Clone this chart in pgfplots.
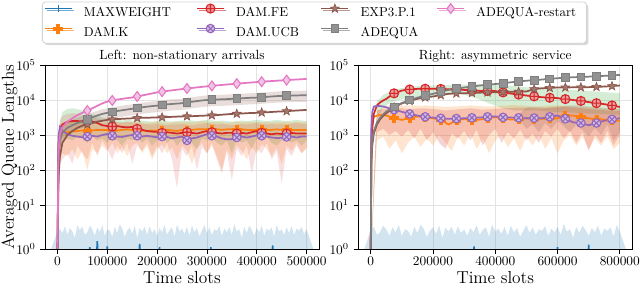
\documentclass[border=0pt]{standalone}
\usepackage{pgfplots}
\pgfplotsset{compat=1.18}
\usepackage{pgfplotstable}
\usepgfplotslibrary{fillbetween}
\usetikzlibrary{plotmarks,shadows}

\definecolor{cblue}{HTML}{1F77B4}
\definecolor{corange}{HTML}{FF7F0E}
\definecolor{cgreen}{HTML}{2CA02C}
\definecolor{cred}{HTML}{D62728}
\definecolor{cpurple}{HTML}{9467BD}
\definecolor{cbrown}{HTML}{8C564B}
\definecolor{cpink}{HTML}{E377C2}
\definecolor{cgray}{HTML}{7F7F7F}

\pgfdeclareplotmark{fstar}{%
  \pgfpathmoveto{\pgfpointpolar{90}{\pgfplotmarksize}}%
  \pgfpathlineto{\pgfpointpolar{126}{0.42\pgfplotmarksize}}%
  \pgfpathlineto{\pgfpointpolar{162}{\pgfplotmarksize}}%
  \pgfpathlineto{\pgfpointpolar{198}{0.42\pgfplotmarksize}}%
  \pgfpathlineto{\pgfpointpolar{234}{\pgfplotmarksize}}%
  \pgfpathlineto{\pgfpointpolar{270}{0.42\pgfplotmarksize}}%
  \pgfpathlineto{\pgfpointpolar{306}{\pgfplotmarksize}}%
  \pgfpathlineto{\pgfpointpolar{342}{0.42\pgfplotmarksize}}%
  \pgfpathlineto{\pgfpointpolar{18}{\pgfplotmarksize}}%
  \pgfpathlineto{\pgfpointpolar{54}{0.42\pgfplotmarksize}}%
  \pgfpathclose
  \pgfusepathqfillstroke
}
\pgfdeclareplotmark{fplus}{%
  \pgfpathmoveto{\pgfpoint{0.35\pgfplotmarksize}{\pgfplotmarksize}}%
  \pgfpathlineto{\pgfpoint{-0.35\pgfplotmarksize}{\pgfplotmarksize}}%
  \pgfpathlineto{\pgfpoint{-0.35\pgfplotmarksize}{0.35\pgfplotmarksize}}%
  \pgfpathlineto{\pgfpoint{-\pgfplotmarksize}{0.35\pgfplotmarksize}}%
  \pgfpathlineto{\pgfpoint{-\pgfplotmarksize}{-0.35\pgfplotmarksize}}%
  \pgfpathlineto{\pgfpoint{-0.35\pgfplotmarksize}{-0.35\pgfplotmarksize}}%
  \pgfpathlineto{\pgfpoint{-0.35\pgfplotmarksize}{-\pgfplotmarksize}}%
  \pgfpathlineto{\pgfpoint{0.35\pgfplotmarksize}{-\pgfplotmarksize}}%
  \pgfpathlineto{\pgfpoint{0.35\pgfplotmarksize}{-0.35\pgfplotmarksize}}%
  \pgfpathlineto{\pgfpoint{\pgfplotmarksize}{-0.35\pgfplotmarksize}}%
  \pgfpathlineto{\pgfpoint{\pgfplotmarksize}{0.35\pgfplotmarksize}}%
  \pgfpathlineto{\pgfpoint{0.35\pgfplotmarksize}{0.35\pgfplotmarksize}}%
  \pgfpathclose
  \pgfusepathqfillstroke
}

% ---------- data: left panel (non-stationary arrivals) ----------
\pgfplotstableread{
x k fe ucb exp adq rst
0 0.5 0.5 0.5 0.5 0.5 0.5
2000 600 500 900 60 200 300
5000 1100 1500 1700 250 700 1100
10000 1200 2000 1300 600 1200 1700
20000 1200 2400 1050 1000 1600 2400
30000 1250 2500 950 1300 1900 3000
40000 1300 2500 900 1600 2200 3700
50000 1350 2450 860 1850 2450 4300
60000 1300 2500 900 2000 2800 5000
70000 1350 2400 950 2200 3200 5800
80000 1400 2200 900 2400 3600 6800
90000 1400 1900 1000 2550 4000 8000
100000 1400 1800 1070 2700 4300 9000
110000 1400 1750 950 2800 4600 9700
120000 1350 1800 900 2850 4850 10300
130000 1400 1700 880 2900 5100 10800
140000 1450 1650 950 2950 5350 11300
150000 1400 1700 1000 3000 5600 11800
160000 1400 1500 950 3050 5900 12600
170000 1350 1400 900 3100 6200 13500
180000 1300 1300 950 3100 6450 14400
190000 1350 1250 900 3150 6700 15400
200000 1300 1230 860 3150 6900 16500
210000 1350 1150 900 3200 7200 17300
220000 1400 1200 880 3250 7500 18100
230000 1350 1150 800 3300 7700 18900
240000 1300 1100 850 3350 7900 19700
250000 1400 1150 900 3400 8100 20500
260000 1350 1200 700 3420 8500 21300
270000 1400 1150 800 3450 8900 22100
280000 1450 1100 850 3500 9300 22900
290000 1450 1200 950 3550 9700 23700
300000 1450 1300 1050 3600 10000 24500
310000 1400 1200 950 3650 10200 25300
320000 1450 1150 900 3700 10300 26100
330000 1400 1100 800 3800 10500 26900
340000 1450 1150 750 3900 10600 27700
350000 1450 1150 760 4000 10800 28500
360000 1400 1100 850 4050 11000 29300
370000 1450 1150 900 4100 11200 30100
380000 1400 1100 850 4200 11400 30900
390000 1400 1200 900 4250 11600 31700
400000 1400 1300 980 4300 11700 32500
410000 1450 1150 950 4400 12000 33300
420000 1400 1100 900 4450 12300 34100
430000 1400 1050 850 4550 12600 34800
440000 1450 1100 820 4650 12900 35500
450000 1400 1070 830 4700 13100 36300
460000 1400 1100 880 4800 13300 37000
470000 1400 1150 900 4900 13400 37800
480000 1400 1100 850 5000 13500 38500
490000 1400 1100 900 5100 13600 39200
500000 1400 1100 900 5200 13700 40000
}\leftlines

\pgfplotstableread{
x gu gl ou ol ru rl au al
0 0.6 0.5 0.6 0.5 0.6 0.5 0.6 0.5
5000 2500 400 2000 200 2500 150 1000 400
10000 4500 600 2200 300 3500 200 1700 800
20000 5500 800 2300 250 4000 300 2300 1050
30000 5800 700 2400 400 4200 150 2700 1250
40000 5500 900 2300 200 4000 500 3100 1450
50000 5000 800 2200 350 3800 300 3500 1600
60000 4500 600 2300 100 3500 200 3900 1800
70000 4000 900 2400 400 3200 600 4400 2050
80000 3600 700 2300 300 3000 250 4900 2300
90000 3200 800 2200 500 2800 700 5400 2600
100000 3000 600 2300 350 2600 400 5800 2800
110000 2800 850 2400 600 2500 200 6200 3000
120000 2700 700 2300 300 2400 500 6550 3150
130000 2600 500 2200 450 2300 300 6900 3300
140000 2700 800 2400 250 2400 600 7200 3500
150000 2600 700 2300 500 2300 150 7550 3650
160000 2500 900 2400 600 2200 500 7950 3850
170000 2600 600 2300 300 2100 350 8350 4050
180000 2500 800 2200 500 2000 600 8700 4200
190000 2400 500 2300 200 2000 250 9050 4350
200000 2500 700 2400 400 2100 500 9300 4500
210000 2600 900 2300 550 2000 300 9700 4700
220000 2500 600 2200 300 1900 600 10100 4900
230000 2400 800 2300 450 2000 200 10400 5000
240000 2500 500 2400 200 2000 30 10650 5150
250000 2600 700 2300 500 2100 400 10900 5250
260000 2500 800 2400 350 2000 250 11500 5500
270000 2600 600 2300 150 1900 500 12000 5800
280000 2500 400 2400 400 2000 100 12550 6050
290000 2600 800 2500 600 2100 450 13100 6300
300000 2700 700 2400 300 2200 300 13500 6500
310000 2600 900 2300 500 2100 600 13750 6650
320000 2500 600 2400 250 2000 200 13900 6700
330000 2600 500 2300 100 2100 80 14150 6800
340000 2500 700 2200 400 2000 350 14300 6900
350000 2400 300 2300 200 1900 50 14600 7000
360000 2500 800 2400 500 2000 400 14850 7150
370000 2600 600 2300 350 2100 250 15100 7300
380000 2500 700 2400 200 2000 500 15400 7400
390000 2600 400 2300 450 2100 80 15650 7550
400000 2700 800 2400 300 2200 400 15800 7600
410000 2600 700 2300 550 2100 300 16200 7800
420000 2500 900 2400 400 2000 600 16600 8000
430000 2600 600 2300 250 2100 200 17000 8200
440000 2700 500 2400 450 2000 350 17400 8400
450000 2600 700 2300 150 2100 40 17700 8500
460000 2500 800 2400 500 2000 400 17950 8650
470000 2600 600 2300 350 2100 250 18100 8700
480000 2700 700 2400 600 2200 500 18200 8800
490000 2600 500 2300 300 2100 300 18350 8850
500000 2500 700 2400 400 2000 450 18500 8900
}\leftbands

\pgfplotstableread{
x y
0 2.5
5000 2.9
10000 2.3
15000 3.3
20000 2.1
25000 3.0
30000 2.5
35000 1.8
40000 3.5
45000 2.7
50000 3.2
55000 2.1
60000 2.4
65000 3.4
70000 2.8
75000 2.0
80000 3.1
85000 2.4
90000 3.5
95000 2.0
100000 2.8
105000 2.6
110000 1.9
115000 3.2
120000 2.3
125000 3.6
130000 2.9
135000 1.9
140000 2.6
145000 3.1
150000 2.2
155000 3.4
160000 1.8
165000 3.0
170000 2.5
175000 3.2
180000 2.1
185000 3.3
190000 2.3
195000 2.8
200000 2.0
205000 3.0
210000 2.4
215000 3.5
220000 2.1
225000 2.7
230000 3.1
235000 1.9
240000 3.6
245000 2.5
250000 2.9
255000 2.2
260000 3.2
265000 2.0
270000 3.4
275000 2.4
280000 3.0
285000 1.9
290000 2.6
295000 3.5
300000 2.3
305000 3.1
310000 2.1
315000 2.8
320000 2.6
325000 3.3
330000 2.0
335000 2.9
340000 2.4
345000 3.2
350000 2.1
355000 3.7
360000 2.5
365000 2.8
370000 1.8
375000 3.2
380000 2.3
385000 3.4
390000 2.7
395000 2.0
400000 3.0
405000 2.4
410000 3.4
415000 2.0
420000 2.9
425000 2.6
430000 3.1
435000 1.9
440000 3.5
445000 2.5
450000 2.8
455000 2.1
460000 3.1
465000 2.3
470000 3.3
475000 2.1
480000 2.9
485000 2.6
490000 3.2
495000 2.2
500000 2.8
}\leftblue

% ---------- data: right panel (asymmetric service) ----------
\pgfplotstableread{
x k fe ucb exp adq
0 0.5 0.5 0.5 0.5 0.5
2000 800 400 1500 150 200
5000 2500 1500 4500 500 700
10000 3300 4000 6500 1100 1300
20000 3600 7000 6800 2000 2300
30000 3700 8500 6700 2800 3100
40000 3700 9700 6500 3500 3900
50000 3600 10800 6200 4200 4700
75000 3000 15500 5300 6200 6400
100000 2700 18600 4600 8000 8200
125000 3100 20000 4000 9400 10000
150000 3400 20800 3600 10800 11700
175000 3200 21000 3300 11800 13300
200000 3000 20900 3150 12600 15000
225000 2700 20700 3000 13800 17200
250000 2000 20300 2900 15000 19400
275000 2600 20000 2950 15400 21000
300000 2900 19400 3000 15600 22700
325000 2700 18800 3100 15900 24300
350000 2750 18200 3150 16200 25900
375000 3000 18200 3300 16500 27300
400000 3250 18000 3400 16700 28600
425000 3000 16500 3200 17000 30200
450000 2750 15300 3150 17200 32000
475000 2900 14300 3100 17300 33800
500000 3000 13400 3000 17500 35500
525000 2900 12700 3050 20500 37000
550000 2900 12000 3000 21700 38400
575000 3000 11600 3300 22200 40200
600000 3000 11300 3600 22700 41900
625000 3500 10600 2900 22800 43300
650000 3600 10000 2300 23000 44700
675000 3200 9400 2200 23000 45600
700000 3000 8700 1900 23300 46500
725000 2800 8100 2200 23700 47800
750000 2750 7600 2550 24200 49000
775000 2650 7000 2800 25000 50500
800000 2550 6300 3000 25900 52000
}\rightlines

\pgfplotstableread{
x gu gl ou ol ru rl
0 0.6 0.5 0.6 0.5 0.6 0.5
20000 9000 3000 5000 700 5000 1200
40000 14000 6000 6000 900 5500 1500
60000 17000 8000 6500 400 6000 1000
80000 20000 9500 6800 700 6000 1300
100000 22000 10500 7000 300 5800 900
120000 23500 11500 6800 600 5500 1400
140000 24500 12000 7000 900 5600 800
160000 25000 12500 6900 450 5800 1500
180000 25500 13000 7000 800 5700 700
200000 26000 13500 6800 500 5500 1200
220000 26000 14000 6500 1000 5300 600
240000 26500 14500 6400 600 5000 400
260000 27000 15000 6500 350 5200 1100
280000 27000 15000 6600 900 5400 800
300000 27500 14000 6800 500 5600 1300
320000 27500 12500 7000 1100 5800 700
340000 28000 11000 6800 400 5500 1400
360000 28000 9500 6600 800 5300 500
380000 28000 8000 6500 300 5400 1000
400000 27500 7000 6700 700 5600 1500
420000 27000 6000 6800 1000 5800 600
440000 26000 5500 7000 450 5900 1200
460000 25000 5000 7200 800 6000 800
480000 24000 5000 7000 350 6100 1400
500000 23000 5000 6800 900 6000 700
520000 22500 5200 6500 500 5800 1100
540000 22000 5000 6600 1000 5700 600
560000 21500 4800 6800 400 5800 1300
580000 21000 4600 7000 800 6000 900
600000 20500 4500 7000 300 6200 1500
620000 20000 4500 6800 700 6300 800
640000 19500 4400 6700 1000 6200 1300
660000 19000 4300 6500 500 6000 600
680000 18500 4200 6300 900 5800 1200
700000 18000 4100 6200 400 5500 350
720000 17500 4000 6000 800 5300 1000
740000 17000 4000 5800 500 5200 600
760000 16500 3900 5600 900 5000 1300
780000 16000 3900 5500 400 4800 500
800000 16000 3800 5500 600 4800 1000
}\rightbands

\pgfplotstableread{
x bu bl
460000 3200 2800
480000 4200 2600
500000 6000 1500
520000 6500 2000
540000 6200 1200
560000 6000 2200
580000 6300 1500
600000 6500 2500
620000 6800 1800
640000 7000 1200
660000 7000 2000
680000 6800 1400
700000 6500 900
720000 6200 1600
740000 6000 1000
760000 5800 2000
780000 5600 700
800000 5500 1200
}\rightbrown

\pgfplotstableread{
x y
0 2.7
10000 3.2
20000 2.1
30000 2.4
40000 3.4
50000 2.8
60000 2.0
70000 3.1
80000 2.4
90000 3.5
100000 2.0
110000 2.8
120000 2.6
130000 1.9
140000 3.2
150000 2.3
160000 3.6
170000 2.9
180000 1.9
190000 2.6
200000 3.1
210000 2.2
220000 3.4
230000 1.8
240000 3.0
250000 2.5
260000 3.2
270000 2.1
280000 3.3
290000 2.3
300000 2.8
310000 2.0
320000 3.0
330000 2.4
340000 3.5
350000 2.1
360000 2.7
370000 3.1
380000 1.9
390000 3.6
400000 2.5
410000 2.9
420000 2.2
430000 3.2
440000 2.0
450000 3.4
460000 2.4
470000 3.0
480000 1.9
490000 2.6
500000 3.5
510000 2.3
520000 3.1
530000 2.1
540000 2.8
550000 2.6
560000 3.3
570000 2.0
580000 2.9
590000 2.4
600000 3.2
610000 2.1
620000 3.7
630000 2.5
640000 2.8
650000 1.8
660000 3.2
670000 2.3
680000 3.4
690000 2.7
700000 2.0
710000 3.0
720000 2.4
730000 3.4
740000 2.0
750000 2.9
760000 2.6
770000 3.1
780000 1.9
790000 3.5
800000 2.5
}\rightblue

\pgfplotsset{
  sMW/.style={color=cblue, line width=1.3pt, mark=|, mark size=2.5pt, mark options={solid, line width=0.8pt}},
  sK/.style={color=corange, line width=1.3pt, mark=fplus, mark size=3.2pt, mark options={solid, fill=corange, draw=corange, line width=0.5pt}},
  sFE/.style={color=cred, line width=1.3pt, mark=oplus*, mark size=3.4pt, mark options={solid, fill=cred!45, draw=cred, line width=0.8pt}},
  sUCB/.style={color=cpurple, line width=1.3pt, mark=otimes*, mark size=3.2pt, mark options={solid, fill=cpurple!45, draw=cpurple, line width=0.8pt}},
  sEXP/.style={color=cbrown, line width=1.3pt, mark=fstar, mark size=3.4pt, mark options={solid, fill=cbrown!80, draw=cbrown, line width=0.5pt}},
  sADQ/.style={color=cgray, line width=1.3pt, mark=square*, mark size=2.9pt, mark options={solid, fill=cgray!85, draw=cgray, line width=0.6pt}},
  sRST/.style={color=cpink, line width=1.3pt, mark=diamond*, mark size=3.7pt, mark options={solid, fill=cpink!45, draw=cpink, line width=0.8pt}},
}

\begin{document}
\begin{tikzpicture}

% ================= LEFT =================
\begin{axis}[
  scale only axis, height=138pt, width=205.5pt,
  at={(33.75pt,27.75pt)}, anchor=south west,
  xmin=-25000, xmax=525000,
  y coord trafo/.code={\begingroup\pgfkeys{/pgf/fpu=true,/pgf/fpu/output format=fixed}%
    \pgfmathparse{ln(#1)/2.302585093}\pgfmathparse{\pgfmathresult+0.257*min(\pgfmathresult,1)}%
    \global\let\myTrafoRes\pgfmathresult\endgroup\let\pgfmathresult\myTrafoRes},
  ymin=1, ymax=100000,
  xtick={0,100000,200000,300000,400000,500000},
  ytick={1,10,100,1000,10000,100000},
  yticklabels={$10^{0}$,$10^{1}$,$10^{2}$,$10^{3}$,$10^{4}$,$10^{5}$},
  grid=major, major grid style={gray!22, line width=0.5pt},
  axis line style={line width=0.7pt},
  tick align=outside, tick pos=left, major tick length=3.5pt,
  tick style={line width=0.6pt, black},
  tick label style={font=\fontsize{9.75}{11}\selectfont},
  scaled x ticks=false,
  xticklabel style={/pgf/number format/fixed, /pgf/number format/1000 sep={}, yshift=-1.5pt, inner ysep=1pt},
  xlabel={Time slots},
  xlabel style={at={(axis description cs:0.5,-0.186)}, anchor=base, inner ysep=1pt, font=\fontsize{13}{15}\selectfont},
  title={Left: non-stationary arrivals},
  title style={at={(axis description cs:0.5,1)}, anchor=base, yshift=-2pt, font=\fontsize{10}{12}\selectfont},
  ylabel={Averaged Queue Lengths},
  ylabel style={at={(axis description cs:-0.114,0.5)}, anchor=base, font=\fontsize{13}{15}\selectfont},
  legend columns=4,
  legend style={at={(axis description cs:-0.011,1.345)}, anchor=north west,
    draw=gray!35, line width=0.6pt, rounded corners=2.5pt, fill=white,
    inner xsep=1pt, inner ysep=0.5pt, font=\fontsize{9.7}{11}\selectfont,
    nodes={inner sep=2pt, text height=8.5pt, text depth=2.5pt},
    drop shadow={shadow xshift=1.5pt, shadow yshift=-1.5pt, fill=gray!50, opacity=0.6}},
  legend image code/.code={\draw[sharp corners, mark repeat=2, mark phase=2, #1] plot coordinates {(0pt,3pt) (10.125pt,3pt) (20.25pt,3pt)};},
]
\addlegendimage{sMW}\addlegendentry{\makebox[88.75pt][l]{\hspace{6.5pt}MAXWEIGHT}}
\addlegendimage{sFE}\addlegendentry{\makebox[67.75pt][l]{\hspace{6.5pt}DAM.FE}}
\addlegendimage{sEXP}\addlegendentry{\makebox[61.35pt][l]{\hspace{6.5pt}EXP3.P.1}}
\addlegendimage{sRST}\addlegendentry{\makebox[86pt][l]{\hspace{6.5pt}ADEQUA-restart}}
\addlegendimage{sK}\addlegendentry{\makebox[88.75pt][l]{\hspace{6.5pt}DAM.K}}
\addlegendimage{sUCB}\addlegendentry{\makebox[67.75pt][l]{\hspace{6.5pt}DAM.UCB}}
\addlegendimage{sADQ}\addlegendentry{\makebox[61.35pt][l]{\hspace{6.5pt}ADEQUA}}

% bands
\addplot[draw=none, forget plot, name path=Lz] coordinates {(-30000,0.3) (530000,0.3)};
\addplot[draw=none, forget plot, name path=Lb] table[x=x,y=y]{\leftblue};
\addplot[fill=cblue, fill opacity=0.2, draw=none, forget plot] fill between[of=Lb and Lz];
\addplot[draw=none, forget plot, name path=Lgu] table[x=x,y=gu]{\leftbands};
\addplot[draw=none, forget plot, name path=Lgl] table[x=x,y=gl]{\leftbands};
\addplot[fill=cgreen, fill opacity=0.2, draw=none, forget plot] fill between[of=Lgu and Lgl];
\addplot[draw=none, forget plot, name path=Lou] table[x=x,y=ou]{\leftbands};
\addplot[draw=none, forget plot, name path=Lol] table[x=x,y=ol]{\leftbands};
\addplot[fill=corange, fill opacity=0.2, draw=none, forget plot] fill between[of=Lou and Lol];
\addplot[draw=none, forget plot, name path=Lru] table[x=x,y=ru]{\leftbands};
\addplot[draw=none, forget plot, name path=Lrl] table[x=x,y=rl]{\leftbands};
\addplot[fill=cred, fill opacity=0.15, draw=none, forget plot] fill between[of=Lru and Lrl];
\addplot[draw=none, forget plot, name path=Lau] table[x=x,y=au]{\leftbands};
\addplot[draw=none, forget plot, name path=Lal] table[x=x,y=al]{\leftbands};
\addplot[fill=cbrown, fill opacity=0.2, draw=none, forget plot] fill between[of=Lau and Lal];

% lines
\addplot[forget plot, color=cblue, line width=1.2pt] coordinates {(0,0.5) (63000,0.5) (65000,1.1) (67000,0.5) (78000,0.5) (80000,1.5) (82000,0.5) (99000,0.5) (100000,1.15) (101000,0.5) (163000,0.5) (165000,1.3) (167000,0.5) (204000,0.5) (205000,1.1) (206000,0.5) (307000,0.5) (308000,1.1) (309000,0.5) (430000,0.5) (432000,1.2) (434000,0.5) (500000,0.5)};
\addplot[forget plot, sK, mark indices={8,13,18,23,28,33,38,43,48,53}] table[x=x,y=k]{\leftlines};
\addplot[forget plot, sFE, mark indices={8,13,18,23,28,33,38,43,48,53}] table[x=x,y=fe]{\leftlines};
\addplot[forget plot, sUCB, mark indices={8,13,18,23,28,33,38,43,48,53}] table[x=x,y=ucb]{\leftlines};
\addplot[forget plot, sEXP, mark indices={8,13,18,23,28,33,38,43,48,53}] table[x=x,y=exp]{\leftlines};
\addplot[forget plot, sADQ, mark indices={8,13,18,23,28,33,38,43,48,53}] table[x=x,y=adq]{\leftlines};
\addplot[forget plot, sRST, mark indices={8,13,18,23,28,33,38,43,48,53}] table[x=x,y=rst]{\leftlines};
\end{axis}

% ================= RIGHT =================
\begin{axis}[
  scale only axis, height=138pt, width=205.5pt,
  at={(268.7pt,27.75pt)}, anchor=south west,
  xmin=-40000, xmax=840000,
  y coord trafo/.code={\begingroup\pgfkeys{/pgf/fpu=true,/pgf/fpu/output format=fixed}%
    \pgfmathparse{ln(#1)/2.302585093}\pgfmathparse{\pgfmathresult+0.257*min(\pgfmathresult,1)}%
    \global\let\myTrafoRes\pgfmathresult\endgroup\let\pgfmathresult\myTrafoRes},
  ymin=1, ymax=100000,
  xtick={0,200000,400000,600000,800000},
  ytick={1,10,100,1000,10000,100000},
  yticklabels={$10^{0}$,$10^{1}$,$10^{2}$,$10^{3}$,$10^{4}$,$10^{5}$},
  grid=major, major grid style={gray!22, line width=0.5pt},
  axis line style={line width=0.7pt},
  tick align=outside, tick pos=left, major tick length=3.5pt,
  tick style={line width=0.6pt, black},
  tick label style={font=\fontsize{9.75}{11}\selectfont},
  scaled x ticks=false,
  xticklabel style={/pgf/number format/fixed, /pgf/number format/1000 sep={}, yshift=-1.5pt, inner ysep=1pt},
  xlabel={Time slots},
  xlabel style={at={(axis description cs:0.5,-0.186)}, anchor=base, inner ysep=1pt, font=\fontsize{13}{15}\selectfont},
  title={Right: asymmetric service},
  title style={at={(axis description cs:0.5,1)}, anchor=base, yshift=-2pt, font=\fontsize{10}{12}\selectfont},
]
\addplot[draw=none, forget plot, name path=Rz] coordinates {(-45000,0.3) (845000,0.3)};
\addplot[draw=none, forget plot, name path=Rb] table[x=x,y=y]{\rightblue};
\addplot[fill=cblue, fill opacity=0.2, draw=none, forget plot] fill between[of=Rb and Rz];
\addplot[draw=none, forget plot, name path=Rgu] table[x=x,y=gu]{\rightbands};
\addplot[draw=none, forget plot, name path=Rgl] table[x=x,y=gl]{\rightbands};
\addplot[fill=cgreen, fill opacity=0.2, draw=none, forget plot] fill between[of=Rgu and Rgl];
\addplot[draw=none, forget plot, name path=Rou] table[x=x,y=ou]{\rightbands};
\addplot[draw=none, forget plot, name path=Rol] table[x=x,y=ol]{\rightbands};
\addplot[fill=corange, fill opacity=0.2, draw=none, forget plot] fill between[of=Rou and Rol];
\addplot[draw=none, forget plot, name path=Rru] table[x=x,y=ru]{\rightbands};
\addplot[draw=none, forget plot, name path=Rrl] table[x=x,y=rl]{\rightbands};
\addplot[fill=cred, fill opacity=0.2, draw=none, forget plot] fill between[of=Rru and Rrl];
\addplot[draw=none, forget plot, name path=Rbu] table[x=x,y=bu]{\rightbrown};
\addplot[draw=none, forget plot, name path=Rbl] table[x=x,y=bl]{\rightbrown};
\addplot[fill=cbrown, fill opacity=0.2, draw=none, forget plot] fill between[of=Rbu and Rbl];

\addplot[forget plot, color=cblue, line width=1.2pt] coordinates {(0,0.5) (330000,0.5) (332000,1.15) (334000,0.5) (598000,0.5) (600000,1.1) (602000,0.5) (698000,0.5) (700000,1.25) (702000,0.5) (800000,0.5)};
\addplot[forget plot, sK, mark indices={8,10,12,14,16,18,20,22,24,26,28,30,32,34,36,38}] table[x=x,y=k]{\rightlines};
\addplot[forget plot, sFE, mark indices={8,10,12,14,16,18,20,22,24,26,28,30,32,34,36,38}] table[x=x,y=fe]{\rightlines};
\addplot[forget plot, sUCB, mark indices={8,10,12,14,16,18,20,22,24,26,28,30,32,34,36,38}] table[x=x,y=ucb]{\rightlines};
\addplot[forget plot, sEXP, mark indices={8,10,12,14,16,18,20,22,24,26,28,30,32,34,36,38}] table[x=x,y=exp]{\rightlines};
\addplot[forget plot, sADQ, mark indices={8,10,12,14,16,18,20,22,24,26,28,30,32,34,36,38}] table[x=x,y=adq]{\rightlines};
\end{axis}

\pgfresetboundingbox
\path[use as bounding box] (0,0) rectangle (480pt,214.5pt);
\end{tikzpicture}
\end{document}
